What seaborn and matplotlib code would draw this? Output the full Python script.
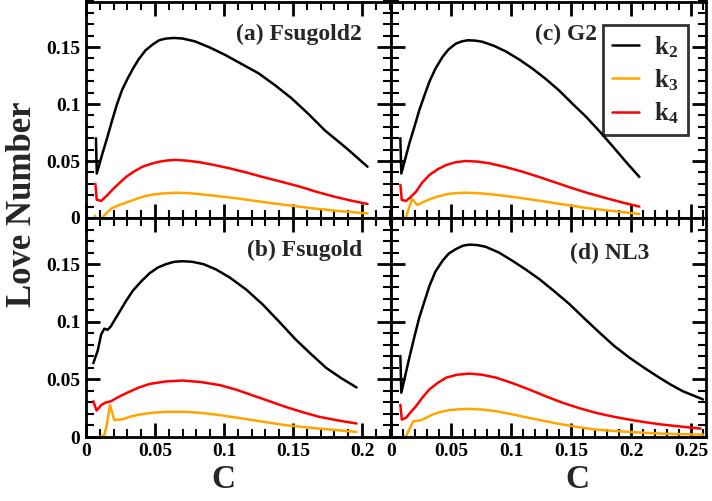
import matplotlib
matplotlib.use("Agg")
import matplotlib.pyplot as plt
from matplotlib.ticker import MultipleLocator, FuncFormatter
from matplotlib.lines import Line2D
import pandas as pd
import seaborn as sns

# (a) Fsugold2
a_k2_c = [0.0072, 0.0078, 0.012, 0.0155, 0.019, 0.0225, 0.026, 0.030, 0.034, 0.038, 0.043, 0.048, 0.053, 0.058,
          0.064, 0.070, 0.079, 0.090, 0.101, 0.113, 0.125, 0.137, 0.149, 0.161, 0.173, 0.189, 0.204]
a_k2_v = [0.070, 0.039, 0.057, 0.071, 0.086, 0.100, 0.112, 0.122, 0.131, 0.139, 0.147, 0.152, 0.156, 0.1575,
          0.158, 0.1575, 0.155, 0.1495, 0.143, 0.135, 0.127, 0.1165, 0.105, 0.0915, 0.077, 0.061, 0.045]
a_k3_c = [0.0065, 0.008, 0.0115, 0.015, 0.019, 0.025, 0.031, 0.037, 0.043, 0.049, 0.056, 0.066, 0.074, 0.082,
          0.095, 0.109, 0.122, 0.135, 0.150, 0.164, 0.184, 0.204]
a_k3_v = [0.002, -0.004, 0.0, 0.0045, 0.0088, 0.0118, 0.0143, 0.017, 0.0193, 0.0207, 0.0216, 0.0222, 0.0218, 0.021,
          0.0193, 0.0173, 0.0151, 0.0129, 0.0107, 0.0085, 0.006, 0.004]
a_k4_c = [0.0068, 0.0078, 0.011, 0.015, 0.019, 0.024, 0.029, 0.035, 0.041, 0.047, 0.053, 0.059, 0.065, 0.073,
          0.082, 0.093, 0.104, 0.116, 0.128, 0.141, 0.155, 0.167, 0.180, 0.192, 0.204]
a_k4_v = [0.030, 0.016, 0.015, 0.0195, 0.0246, 0.0305, 0.036, 0.041, 0.045, 0.0475, 0.0494, 0.0505, 0.051, 0.0503,
          0.049, 0.0465, 0.0436, 0.040, 0.036, 0.032, 0.0275, 0.023, 0.0187, 0.0153, 0.0123]

# (b) Fsugold
b_k2_c = [0.0053, 0.0085, 0.011, 0.0133, 0.0157, 0.018, 0.021, 0.024, 0.029, 0.034, 0.040, 0.046, 0.052, 0.058,
          0.064, 0.070, 0.077, 0.085, 0.094, 0.104, 0.116, 0.128, 0.140, 0.152, 0.163, 0.174, 0.185, 0.196]
b_k2_v = [0.064, 0.075, 0.089, 0.094, 0.093, 0.096, 0.102, 0.108, 0.118, 0.127, 0.135, 0.142, 0.147, 0.150,
          0.152, 0.1525, 0.152, 0.150, 0.1455, 0.1385, 0.128, 0.115, 0.100, 0.0845, 0.072, 0.060, 0.051, 0.043]
b_k3_c = [0.008, 0.0097, 0.0133, 0.015, 0.0174, 0.0205, 0.0266, 0.032, 0.0387, 0.048, 0.058, 0.0725, 0.085, 0.097,
          0.109, 0.121, 0.133, 0.145, 0.157, 0.169, 0.183, 0.196]
b_k3_v = [-0.003, 0.0, 0.0015, 0.010, 0.0277, 0.0146, 0.0155, 0.0176, 0.0195, 0.021, 0.0219, 0.0219, 0.0207, 0.019,
          0.0168, 0.0146, 0.0124, 0.0102, 0.0087, 0.0073, 0.0058, 0.0044]
b_k4_c = [0.0053, 0.0077, 0.011, 0.0145, 0.018, 0.024, 0.031, 0.038, 0.046, 0.058, 0.070, 0.083, 0.097, 0.109,
          0.121, 0.133, 0.145, 0.157, 0.169, 0.183, 0.196]
b_k4_v = [0.031, 0.023, 0.0277, 0.030, 0.031, 0.035, 0.039, 0.0428, 0.046, 0.0482, 0.049, 0.0477, 0.045, 0.041,
          0.036, 0.031, 0.026, 0.0215, 0.0175, 0.0143, 0.0117]

# (c) G2
c_k2_c = [0.0078, 0.0086, 0.0153, 0.0195, 0.0236, 0.028, 0.032, 0.037, 0.043, 0.048, 0.054, 0.059, 0.064, 0.070,
          0.076, 0.086, 0.096, 0.107, 0.118, 0.129, 0.140, 0.151, 0.1625, 0.174, 0.185, 0.196, 0.207]
c_k2_v = [0.070, 0.039, 0.0655, 0.080, 0.0947, 0.108, 0.1196, 0.131, 0.1415, 0.148, 0.153, 0.155, 0.156, 0.1557,
          0.1547, 0.151, 0.146, 0.139, 0.131, 0.122, 0.112, 0.1005, 0.0889, 0.0758, 0.0626, 0.049, 0.036]
c_k3_c = [0.009, 0.0125, 0.0175, 0.022, 0.027, 0.032, 0.039, 0.046, 0.054, 0.0625, 0.072, 0.082, 0.096, 0.1097,
          0.124, 0.1375, 0.151, 0.165, 0.186, 0.207]
c_k3_v = [-0.006, 0.001, 0.0164, 0.0114, 0.014, 0.0164, 0.0188, 0.0208, 0.0218, 0.0222, 0.0218, 0.021, 0.0193, 0.0173,
          0.0151, 0.0129, 0.0107, 0.0085, 0.006, 0.0035]
c_k4_c = [0.0078, 0.009, 0.0125, 0.016, 0.0208, 0.026, 0.032, 0.039, 0.046, 0.054, 0.0625, 0.072, 0.082, 0.096,
          0.1097, 0.124, 0.1375, 0.151, 0.165, 0.180, 0.194, 0.207]
c_k4_v = [0.029, 0.0158, 0.015, 0.018, 0.023, 0.031, 0.0377, 0.0428, 0.0465, 0.049, 0.050, 0.0495, 0.048, 0.0446,
          0.0406, 0.0358, 0.031, 0.0262, 0.0216, 0.0172, 0.0133, 0.010]

# (d) NL3
d_k2_c = [0.0078, 0.0086, 0.0153, 0.0195, 0.0236, 0.028, 0.032, 0.037, 0.043, 0.048, 0.054, 0.060, 0.0653, 0.072,
          0.079, 0.090, 0.101, 0.112, 0.1236, 0.136, 0.1486, 0.161, 0.1736, 0.186, 0.1986, 0.211, 0.2236, 0.233,
          0.243, 0.26]
d_k2_v = [0.0703, 0.0384, 0.0689, 0.087, 0.1038, 0.118, 0.131, 0.1435, 0.153, 0.159, 0.163, 0.166, 0.1669, 0.1665,
          0.165, 0.160, 0.153, 0.1455, 0.137, 0.1265, 0.1154, 0.103, 0.0907, 0.079, 0.0689, 0.060, 0.0515, 0.0455,
          0.0398, 0.0326]
d_k3_c = [0.009, 0.0125, 0.0186, 0.025, 0.0347, 0.041, 0.0486, 0.057, 0.0653, 0.076, 0.0875, 0.101, 0.115, 0.129,
          0.143, 0.157, 0.171, 0.185, 0.1986, 0.212, 0.226, 0.243, 0.26]
d_k3_v = [-0.006, 0.0006, 0.0137, 0.0145, 0.0195, 0.0217, 0.0233, 0.0241, 0.0244, 0.0238, 0.0224, 0.0197, 0.0166,
          0.0136, 0.0108, 0.0084, 0.0064, 0.0053, 0.0044, 0.0036, 0.0029, 0.0024, 0.002]
d_k4_c = [0.0078, 0.009, 0.0125, 0.016, 0.0208, 0.026, 0.032, 0.039, 0.046, 0.055, 0.0653, 0.076, 0.0875, 0.101,
          0.115, 0.129, 0.143, 0.157, 0.171, 0.185, 0.1986, 0.212, 0.226, 0.242, 0.258]
d_k4_v = [0.028, 0.0151, 0.0166, 0.021, 0.0267, 0.034, 0.0413, 0.047, 0.0515, 0.054, 0.055, 0.054, 0.0515, 0.0468,
          0.0413, 0.0353, 0.0297, 0.025, 0.0209, 0.0177, 0.0151, 0.0128, 0.0108, 0.009, 0.0073]

titles = ["(a) Fsugold2", "(b) Fsugold", "(c) G2", "(d) NL3"]
series_names = ["k$_2$", "k$_3$", "k$_4$"]
colors = {"k$_2$": "black", "k$_3$": "#FFA500", "k$_4$": "#FF0000"}

sns.set_theme(style="ticks")
plt.rcParams["font.family"] = ["Liberation Serif", "DejaVu Serif"]
plt.rcParams["font.weight"] = "bold"
plt.rcParams["mathtext.fontset"] = "custom"
plt.rcParams["mathtext.rm"] = "Liberation Serif:bold"
plt.rcParams["mathtext.it"] = "Liberation Serif:bold"
plt.rcParams["mathtext.bf"] = "Liberation Serif:bold"


def make_df(k2c, k2v, k3c, k3v, k4c, k4v):
    parts = []
    for name, c, v in zip(series_names, [k2c, k3c, k4c], [k2v, k3v, k4v]):
        parts.append(pd.DataFrame({"C": c, "val": v, "k": name}))
    return pd.concat(parts, ignore_index=True)


dfs = [make_df(a_k2_c, a_k2_v, a_k3_c, a_k3_v, a_k4_c, a_k4_v),
       make_df(b_k2_c, b_k2_v, b_k3_c, b_k3_v, b_k4_c, b_k4_v),
       make_df(c_k2_c, c_k2_v, c_k3_c, c_k3_v, c_k4_c, c_k4_v),
       make_df(d_k2_c, d_k2_v, d_k3_c, d_k3_v, d_k4_c, d_k4_v)]

fig = plt.figure(figsize=(7.12, 5.01), dpi=100)
W, H = 712.0, 501.0
# panel boxes in pixels: (left, right, top, bottom)
boxes = [(86, 391, 1.5, 218), (86, 391, 218, 437),
         (391, 706, 1.5, 218), (391, 706, 218, 437)]
xmaxs = [0.221, 0.221, 0.2625, 0.2625]
title_pos = [(0.905, 0.85), (0.905, 0.85), (0.655, 0.85), (0.82, 0.84)]

fmt = FuncFormatter(lambda v, p: "{:g}".format(round(v, 4)))

for i, (df, box) in enumerate(zip(dfs, boxes)):
    l, r, t, b = box
    ax = fig.add_axes([l / W, 1 - b / H, (r - l) / W, (b - t) / H])
    sns.lineplot(data=df, x="C", y="val", hue="k", palette=colors,
                 estimator=None, sort=False, linewidth=1.8, legend=False, ax=ax)
    ax.set_xlim(0, xmaxs[i])
    ax.set_ylim(0, 0.19)
    ax.xaxis.set_major_locator(MultipleLocator(0.05))
    ax.xaxis.set_minor_locator(MultipleLocator(0.01))
    ax.yaxis.set_major_locator(MultipleLocator(0.05))
    ax.yaxis.set_minor_locator(MultipleLocator(0.01))
    ax.xaxis.set_major_formatter(fmt)
    ax.yaxis.set_major_formatter(fmt)
    ax.tick_params(which="both", direction="in", top=True, right=True, colors="black")
    ax.tick_params(which="major", length=10, width=2, labelsize=14, pad=4)
    ax.tick_params(which="minor", length=6, width=1.5)
    for s in ax.spines.values():
        s.set_linewidth(2)
        s.set_color("black")
    ax.set_xlabel("")
    ax.set_ylabel("")
    if i in (0, 2):
        ax.tick_params(labelbottom=False)
    if i in (2, 3):
        ax.tick_params(labelleft=False)
    for lab in ax.get_xticklabels() + ax.get_yticklabels():
        lab.set_fontweight("bold")
    ax.text(title_pos[i][0], title_pos[i][1], titles[i], transform=ax.transAxes,
            ha="right", va="center", fontsize=17, fontweight="bold")
    if i == 2:
        handles = [Line2D([], [], color=colors[n], lw=1.8) for n in series_names]
        leg = ax.legend(handles, series_names, loc="upper right",
                        bbox_to_anchor=(0.942, 0.89), fontsize=18, frameon=True,
                        fancybox=False, handlelength=1.1, handletextpad=0.6,
                        borderpad=0.35, labelspacing=0.3, borderaxespad=0)
        leg.get_frame().set_edgecolor("black")
        leg.get_frame().set_linewidth(2)

fig.text(23 / W, 1 - 204 / H, "Love Number", rotation=90, ha="center", va="center",
         fontsize=25, fontweight="bold")
fig.text(223 / W, 1 - 479 / H, "C", ha="center", va="center", fontsize=24, fontweight="bold")
fig.text(577 / W, 1 - 479 / H, "C", ha="center", va="center", fontsize=24, fontweight="bold")

fig.savefig("out.png", dpi=100)
